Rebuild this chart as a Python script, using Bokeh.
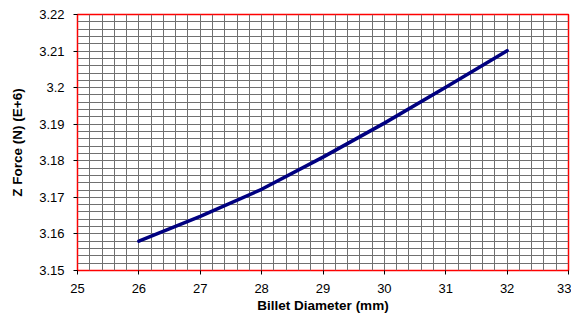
from bokeh.plotting import figure
from bokeh.models import SingleIntervalTicker, FixedTicker, CustomJSTickFormatter, Range1d
from bokeh.embed import file_html
from bokeh.resources import INLINE

# Data
billet_diameter = [26, 27, 28, 29, 30, 31, 32]
z_force = [3.158, 3.1648, 3.1722, 3.181, 3.1903, 3.2001, 3.2101]

x_range = (25, 33)
y_range = (3.15, 3.22)

FONT = "Liberation Sans"

p = figure(width=571, height=316, output_backend="svg", toolbar_location=None,
           x_range=Range1d(*x_range), y_range=Range1d(*y_range))
p.min_border_left = 77
p.min_border_right = 3
p.min_border_top = 14
p.min_border_bottom = 46
p.background_fill_color = "white"
p.border_fill_color = "white"
p.outline_line_color = "#ff0000"
p.outline_line_width = 1.5

p.xaxis.ticker = SingleIntervalTicker(interval=1, num_minor_ticks=0)
p.yaxis.ticker = SingleIntervalTicker(interval=0.01, num_minor_ticks=0)
p.yaxis.formatter = CustomJSTickFormatter(code="return parseFloat(tick.toFixed(4)).toString();")

# grid: 5 cells per major step on each axis
x_grid = [round(x_range[0] + 0.2 * i, 4) for i in range(41)]
y_grid = [round(y_range[0] + 0.002 * i, 4) for i in range(36)]
p.xgrid.ticker = FixedTicker(ticks=x_grid)
p.ygrid.ticker = FixedTicker(ticks=y_grid)

for ax in (p.xaxis[0], p.yaxis[0]):
    ax.axis_line_color = None
    ax.major_tick_line_color = "black"
    ax.major_tick_in = 0
    ax.major_tick_out = 4
    ax.minor_tick_line_color = None
    ax.major_label_text_font = FONT
    ax.major_label_text_font_size = "13px"
    ax.major_label_text_color = "black"
    ax.axis_label_text_font = FONT
    ax.axis_label_text_font_size = "13.5px"
    ax.axis_label_text_font_style = "bold"
    ax.axis_label_text_color = "black"

p.xaxis.axis_label = "Billet Diameter (mm)"
p.yaxis.axis_label = "Z Force (N) (E+6)"
p.xaxis.major_label_standoff = 9
p.xaxis.axis_label_standoff = 2
p.yaxis.major_label_standoff = 9
p.yaxis.axis_label_standoff = 11

for g in (p.xgrid[0], p.ygrid[0]):
    g.grid_line_color = "#707070"
    g.grid_line_width = 1
    g.minor_grid_line_color = None

p.line(billet_diameter, z_force, line_color="#000080", line_width=3.5,
       line_cap="round", line_join="round")

open("out.html", "w").write(file_html(p, INLINE))
